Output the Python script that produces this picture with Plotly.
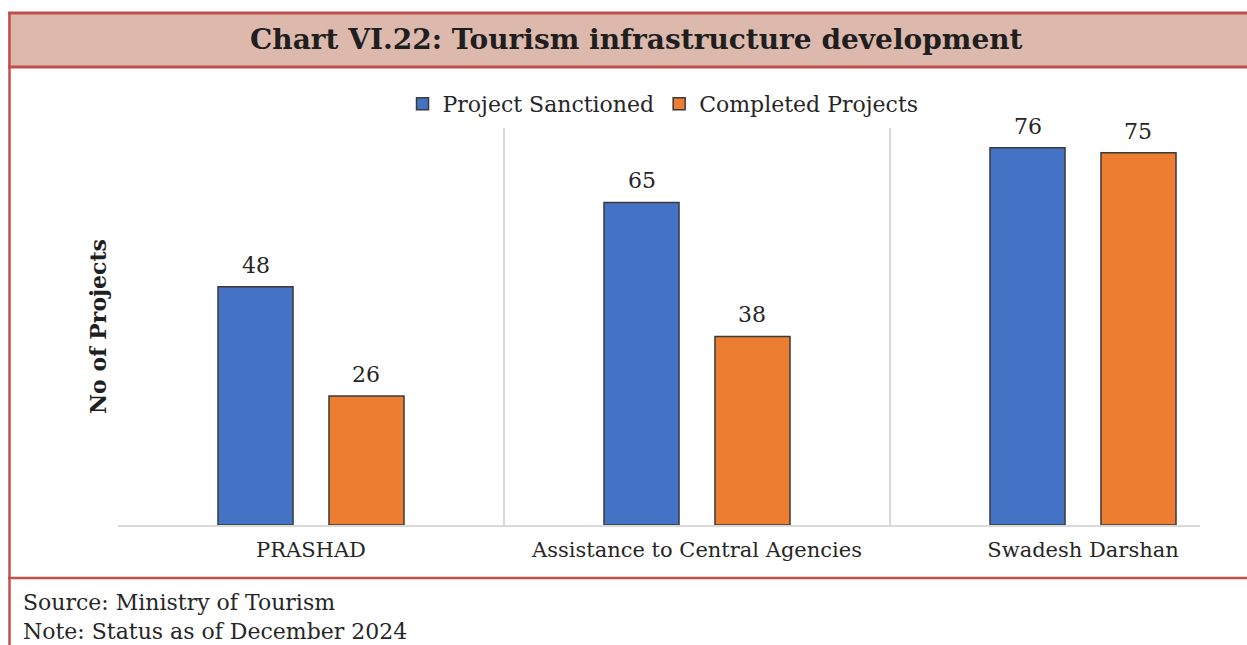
import plotly.graph_objects as go

# ---- data ----
categories = ["PRASHAD", "Assistance to Central Agencies", "Swadesh Darshan"]
sanctioned = [48, 65, 76]
completed = [26, 38, 75]
series_names = ["Project Sanctioned", "Completed Projects"]
series_colors = ["#4472C4", "#ED7D31"]

title_text = "Chart VI.22: Tourism infrastructure development"
y_title = "No of Projects"
source_text = "Source: Ministry of Tourism"
note_text = "Note: Status as of December 2024"

# ---- layout geometry (page pixels) ----
W, H = 1247, 645
L, R, T, B = 118, 1200, 128, 525
SERIF = "DejaVu Serif"
BARGAP = 0.425
GROUPGAP = 0.324


def px(x):
    return (x - L) / (R - L)


def py(y):
    return (B - y) / (B - T)


fig = go.Figure()
for name, vals, col in zip(series_names, [sanctioned, completed], series_colors):
    fig.add_trace(go.Bar(
        x=categories, y=vals, name=name,
        marker=dict(color=col, line=dict(color="#3a3a3a", width=1.5)),
    ))

# data labels above bars
slot = (1 - BARGAP) / 2
for k, vals in enumerate([sanctioned, completed]):
    off = (k - 0.5) * slot
    for i, v in enumerate(vals):
        fig.add_annotation(
            x=i + off, y=v, xref="x", yref="y", text=str(v),
            showarrow=False, yanchor="bottom", yshift=7,
            font=dict(family=SERIF, size=22, color="#262626"),
        )

band_fill = "#DDB9AD"
band_line = "#C0504D"
shapes = [
    # title band
    dict(type="rect", xref="paper", yref="paper", x0=px(8), x1=px(1270),
         y0=py(67), y1=py(13), fillcolor=band_fill, line=dict(width=0), layer="below"),
    dict(type="line", xref="paper", yref="paper", x0=px(8), x1=px(1270),
         y0=py(13), y1=py(13), line=dict(color=band_line, width=3)),
    dict(type="line", xref="paper", yref="paper", x0=px(8), x1=px(1270),
         y0=py(67), y1=py(67), line=dict(color=band_line, width=3)),
    # left border
    dict(type="line", xref="paper", yref="paper", x0=px(9.5), x1=px(9.5),
         y0=py(12), y1=py(660), line=dict(color=band_line, width=2.5)),
    # footer separator
    dict(type="line", xref="paper", yref="paper", x0=px(8), x1=px(1270),
         y0=py(578), y1=py(578), line=dict(color=band_line, width=2.5)),
]

annotations_extra = [
    dict(text="<b>" + title_text + "</b>", xref="paper", yref="paper",
         x=px(636), y=py(39), showarrow=False, xanchor="center", yanchor="middle",
         font=dict(family=SERIF, size=28, color="#1f1f1f")),
    dict(text=source_text, xref="paper", yref="paper", x=px(21), y=py(602),
         showarrow=False, xanchor="left", yanchor="middle",
         font=dict(family=SERIF, size=22, color="#262626")),
    dict(text=note_text, xref="paper", yref="paper", x=px(21), y=py(631),
         showarrow=False, xanchor="left", yanchor="middle",
         font=dict(family=SERIF, size=22, color="#262626")),
]
for a in annotations_extra:
    fig.add_annotation(**a)

fig.update_layout(
    width=W, height=H,
    margin=dict(l=L, r=W - R, t=T, b=H - B, pad=0),
    paper_bgcolor="white", plot_bgcolor="white",
    barmode="group", bargap=BARGAP, bargroupgap=GROUPGAP,
    shapes=shapes,
    showlegend=True,
    legend=dict(orientation="h", x=px(663), y=py(104), xanchor="center", yanchor="middle",
                font=dict(family=SERIF, size=22, color="#262626"),
                itemwidth=30, tracegroupgap=0, bgcolor="rgba(0,0,0,0)"),
    font=dict(family=SERIF, color="#262626"),
)
fig.update_xaxes(
    type="category", range=[-0.5, 2.5 - 76 / 386], tickson="boundaries",
    showgrid=True, gridcolor="#D9D9D9", gridwidth=1.5,
    showline=True, linecolor="#D9D9D9", linewidth=1.5,
    ticks="", tickfont=dict(family=SERIF, size=21, color="#262626"),
    ticklabelstandoff=5, fixedrange=True,
)
fig.update_yaxes(
    range=[0, 80], showgrid=False, showticklabels=False, ticks="",
    zeroline=False, showline=False,
    title=dict(text="<b>" + y_title + "</b>", standoff=4,
               font=dict(family=SERIF, size=22, color="#1f1f1f")),
    fixedrange=True,
)

fig.write_html(
    "out.html",
    config={"displayModeBar": False, "staticPlot": True},
    post_script="document.body.style.margin='0';document.body.style.overflow='hidden';",
)
